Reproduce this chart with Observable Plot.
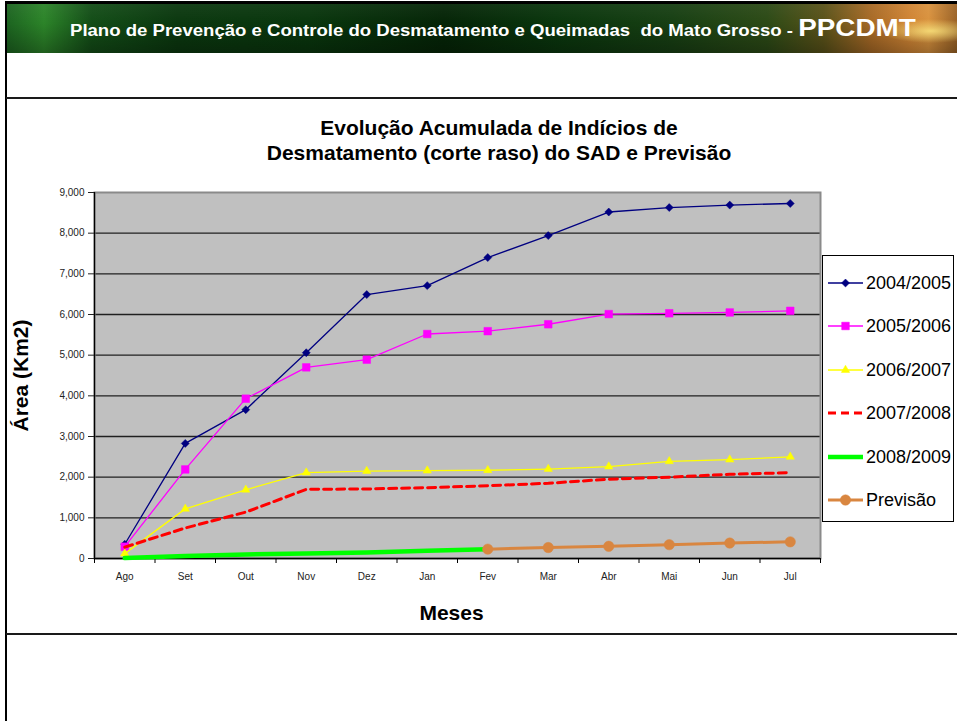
<!DOCTYPE html>
<html>
<head>
<meta charset="utf-8">
<script src="https://cdn.jsdelivr.net/npm/d3@7"></script>
<script src="https://cdn.jsdelivr.net/npm/@observablehq/plot@0.6"></script>
<style>
  body { margin: 0; background: #fff; font-family: "Liberation Sans", Arial, sans-serif; }
  #page { position: relative; width: 957px; height: 721px; overflow: hidden; background: #fff; }
  #topline { position: absolute; left: 5px; top: 1px; width: 952px; height: 3px; background: #000; }
  #banner { position: absolute; left: 6px; top: 3px; width: 951px; height: 50px;
    background:
      radial-gradient(ellipse 50px 12px at 925px 28px, rgba(255,235,130,0.8), rgba(255,200,80,0) 100%),
      linear-gradient(180deg, rgba(255,255,255,0.05) 0%, rgba(0,0,0,0) 40%, rgba(0,0,0,0.28) 100%),
      linear-gradient(90deg, #1c6320 0%, #2c8429 4%, #134d17 9%, #0b380f 18%, #09360d 32%, #052507 46%, #0a360d 58%, #173f13 70%, #2c4a16 80%, #5a5219 86%, #a86a26 91%, #cf8434 95%, #d9923e 97%, #9a6226 100%);
    color: #fff; font-weight: bold; white-space: nowrap; }
  #banner .t { position: absolute; left: 64px; top: 0; line-height: 50px; font-size: 16px; transform: scaleX(1.16); transform-origin: 0 50%; }
  #banner .big { font-size: 24px; }
  #leftline { position: absolute; left: 5px; top: 2px; width: 2px; height: 719px; background: #000; }
  .hline { position: absolute; left: 6px; width: 951px; height: 2px; background: #1a1a1a; }
  #title { position: absolute; left: 0; width: 998px; top: 115px; text-align: center; font-weight: bold; font-size: 21px; line-height: 25px; color: #000; }
  #chart { position: absolute; left: 0; top: 160px; }
  #legend { position: absolute; left: 822px; top: 255px; width: 130px; height: 265px; border: 1px solid #000; background: #fff; }
  #legend .item { position: absolute; left: 0; height: 20px; width: 130px; }
  #legend .item svg { position: absolute; left: 3px; top: 0; }
  #legend .item span { position: absolute; left: 43px; top: -1px; font-size: 18px; line-height: 22px; color: #000; }
</style>
</head>
<body>
<div id="page">
  <div id="banner"><div class="t">Plano de Prevenção e Controle do Desmatamento e Queimadas&nbsp; do Mato Grosso - <span class="big">PPCDMT</span></div></div>
  <div id="topline"></div>
  <div id="leftline"></div>
  <div class="hline" style="top:97px"></div>
  <div class="hline" style="top:633px"></div>
  <div id="title">Evolução Acumulada de Indícios de<br>Desmatamento (corte raso) do SAD e Previsão</div>
  <div id="chart"></div>
  <div id="legend"></div>
</div>
<script>
// ---- data ----
const months = ["Ago", "Set", "Out", "Nov", "Dez", "Jan", "Fev", "Mar", "Abr", "Mai", "Jun", "Jul"];
const seriesNames = ["2004/2005", "2005/2006", "2006/2007", "2007/2008", "2008/2009", "Previsão"];
const s2004_2005 = [350, 2830, 3660, 5060, 6490, 6710, 7400, 7940, 8520, 8630, 8690, 8730];
const s2005_2006 = [290, 2190, 3930, 4700, 4890, 5520, 5590, 5760, 6010, 6030, 6050, 6090];
const s2006_2007 = [120, 1220, 1690, 2110, 2150, 2160, 2170, 2200, 2260, 2390, 2430, 2500];
const s2007_2008 = [280, 750, 1140, 1700, 1710, 1740, 1790, 1850, 1950, 2000, 2070, 2110];
const s2008_2009 = [10, 60, 100, 120, 150, 190, 230];          // Ago .. Fev
const previsao = [230, 270, 300, 340, 380, 410];                // Fev .. Jul
const previsaoStart = "Fev";
const yTicks = [0, 1000, 2000, 3000, 4000, 5000, 6000, 7000, 8000, 9000];
const xTitle = "Meses";
const yTitle = "Área (Km2)";

// ---- build table ----
const seriesValues = [s2004_2005, s2005_2006, s2006_2007, s2007_2008, s2008_2009, previsao];
const seriesStart = [0, 0, 0, 0, 0, months.indexOf(previsaoStart)];
const rows = seriesNames.map((name, k) =>
  seriesValues[k].map((v, i) => ({series: name, i: i + seriesStart[k], month: months[i + seriesStart[k]], v})));

// ---- styles ----
const styles = [
  {color: "#000080", width: 1.3, dash: null, symbol: "diamond2", r: 3.6},
  {color: "#ff00ff", width: 1.3, dash: null, symbol: "square", r: 4.3},
  {color: "#ffff00", width: 1.3, dash: null, symbol: "triangle", r: 3.1},
  {color: "#ff0000", width: 3, dash: "8,5", symbol: null, r: 0},
  {color: "#00ff00", width: 4.5, dash: null, symbol: null, r: 0},
  {color: "#d98640", width: 3, dash: null, symbol: "circle", r: 5.2}
];

const halfTicks = d3.range(-0.5, months.length, 1);

const marks = [
  Plot.frame({fill: "#c0c0c0"}),
  Plot.ruleY(yTicks.slice(1, -1), {stroke: "#202020", strokeWidth: 1.3}),
  Plot.frame({stroke: "#8a8a8a", strokeWidth: 2}),
  Plot.ruleY([0], {stroke: "#000", strokeWidth: 1.3}),
  Plot.ruleX([-0.5], {stroke: "#000", strokeWidth: 1.3}),
  Plot.axisY(yTicks, {tickSize: 6, tickPadding: 4, tickFormat: d3.format(","), fontSize: 10, label: null, color: "#222"}),
  Plot.axisX(halfTicks, {tickSize: 5, tickFormat: () => "", label: null}),
  Plot.axisX(d3.range(months.length), {tickSize: 0, tickPadding: 14, tickFormat: i => months[i], fontSize: 10, label: null, color: "#222"})
];

rows.forEach((data, k) => {
  const s = styles[k];
  marks.push(Plot.line(data, {x: "i", y: "v", stroke: s.color, strokeWidth: s.width,
    strokeDasharray: s.dash, strokeLinejoin: "round"}));
  if (s.symbol) {
    marks.push(Plot.dot(data, {x: "i", y: "v", symbol: () => s.symbol, r: s.r, fill: s.color, stroke: s.color, strokeWidth: 0.5}));
  }
});

marks.push(Plot.text([xTitle], {text: d => d, frameAnchor: "bottom", lineAnchor: "middle", textAnchor: "middle", dy: 55, dx: -6, fontSize: 21, fontWeight: "bold", fill: "#000"}));
marks.push(Plot.text([yTitle], {text: d => d, frameAnchor: "left", lineAnchor: "middle", textAnchor: "middle", rotate: -90, dx: -73, fontSize: 21, fontWeight: "bold", fill: "#000"}));

const chart = Plot.plot({
  width: 830,
  height: 480,
  marginTop: 32,
  marginBottom: 82,
  marginLeft: 94,
  marginRight: 10,
  style: {background: "transparent", fontFamily: "Liberation Sans, Arial, sans-serif", overflow: "visible"},
  x: {type: "linear", domain: [-0.5, months.length - 0.5], label: null},
  y: {domain: [0, 9000], label: null},
  symbol: {type: "identity"},
  marks
});
document.getElementById("chart").appendChild(chart);

// ---- legend ----
const legend = d3.select("#legend");
seriesNames.forEach((name, k) => {
  const s = styles[k];
  const item = legend.append("div").attr("class", "item").style("top", (17 + k * 43.4) + "px");
  const svg = item.append("svg").attr("width", 38).attr("height", 20);
  svg.append("line").attr("x1", 2).attr("x2", 37).attr("y1", 10).attr("y2", 10)
    .attr("stroke", s.color).attr("stroke-width", s.width).attr("stroke-dasharray", s.dash);
  if (s.symbol) {
    const symMap = {diamond2: d3.symbolDiamond2, square: d3.symbolSquare, triangle: d3.symbolTriangle, circle: d3.symbolCircle};
    svg.append("path").attr("transform", "translate(19.5,10)")
      .attr("d", d3.symbol(symMap[s.symbol], Math.PI * s.r * s.r)())
      .attr("fill", s.color).attr("stroke", s.color).attr("stroke-width", 0.5);
  }
  item.append("span").text(name);
});
</script>
</body>
</html>
